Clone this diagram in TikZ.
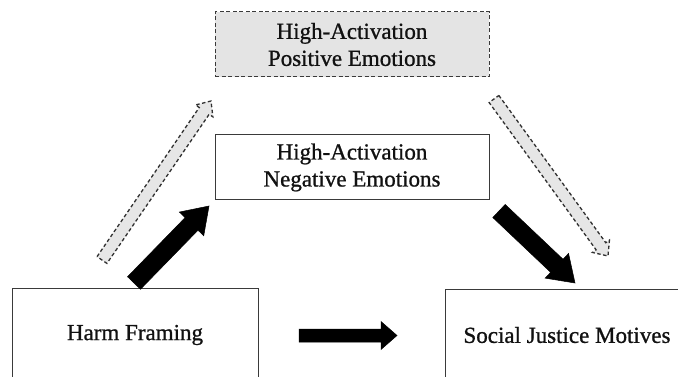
\documentclass[tikz,border=0pt]{standalone}
\usepackage{fontspec}
\setmainfont{Liberation Serif}
\newfontfamily\boxfont{Liberation Serif}[FakeBold=0.9]
\usetikzlibrary{calc}
\definecolor{boxline}{HTML}{3A3A3A}
\definecolor{posfill}{HTML}{E4E4E4}
\definecolor{arrowfill}{HTML}{E6E6E6}
\definecolor{dashline}{HTML}{303030}
\definecolor{txt}{HTML}{111111}
\tikzset{
  box/.style={draw=boxline, line width=1pt, fill=white, align=center,
    font=\boxfont\fontsize{23}{27}\selectfont, text=txt, inner sep=0pt},
  posbox/.style={box, dash pattern=on 4pt off 2.5pt, fill=posfill},
  solidarrow/.style={fill=black, draw=black, line width=0.5pt, line join=miter},
  dasharrow/.style={fill=arrowfill, draw=dashline, line width=1.3pt,
    dash pattern=on 3.5pt off 2.5pt},
}
% #1 style, #2 tail, #3 tip, #4 shaft half width, #5 head half width, #6 head length
\newcommand\blockarrow[6]{%
  \coordinate (#2-base) at ($(#3)!#6!(#2)$);
  \draw[#1] ($(#2)!#4!90:(#3)$) -- ($(#2-base)!#4!-90:(#2)$)
    -- ($(#2-base)!#5!-90:(#2)$) -- (#3) -- ($(#2-base)!#5!90:(#2)$)
    -- ($(#2-base)!#4!90:(#2)$) -- ($(#2)!#4!-90:(#3)$) -- cycle;
}
\begin{document}
\begin{tikzpicture}[x=1pt,y=-1pt]
\useasboundingbox (0,0) rectangle (678,377);
\clip (0,0) rectangle (678,377);
\fill[white] (0,0) rectangle (678,377);

\node[posbox, minimum width=274pt, minimum height=65pt] (pos) at (352,44.5)
  {High-Activation\\Positive Emotions};
\node[box, minimum width=274pt, minimum height=65pt] (neg) at (352,167.5)
  {High-Activation\\Negative Emotions};
\node[box, minimum width=246pt, minimum height=94pt] (harm) at (135,335)
  {Harm Framing};
\node[box, minimum width=244pt, minimum height=92pt] (sjm) at (567,335)
  {Social Justice Motives};

% dashed (positive) paths
\coordinate (dlT) at (102,260); \coordinate (dlH) at (211,101);
\coordinate (drT) at (494,99);  \coordinate (drH) at (608,256);
\blockarrow{dasharrow}{dlT}{dlH}{6pt}{10.5pt}{12pt}
\blockarrow{dasharrow}{drT}{drH}{6pt}{10.5pt}{12pt}

% solid (negative) paths
\coordinate (blT) at (134,283); \coordinate (blH) at (209,206);
\coordinate (brT) at (499,211); \coordinate (brH) at (575,283);
\blockarrow{solidarrow}{blT}{blH}{9pt}{17pt}{25pt}
\blockarrow{solidarrow}{brT}{brH}{9pt}{17pt}{25pt}

% direct path
\coordinate (hT) at (299,335.5); \coordinate (hH) at (397,335.5);
\blockarrow{solidarrow}{hT}{hH}{6.5pt}{14pt}{16pt}
\end{tikzpicture}
\end{document}
